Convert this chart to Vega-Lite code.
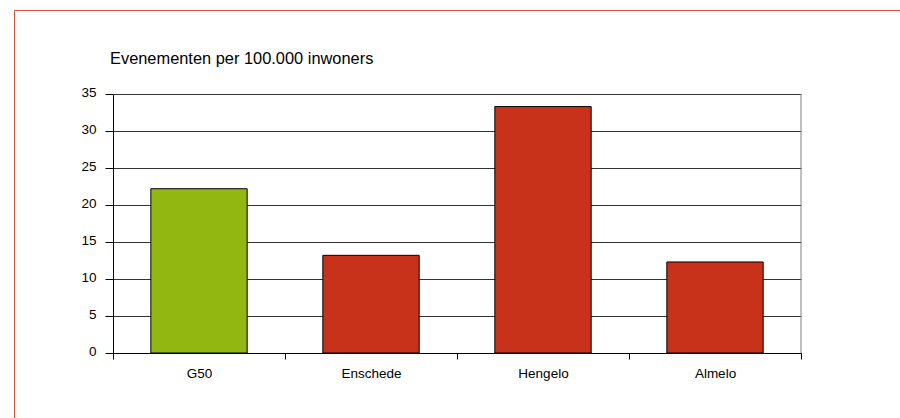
{
  "$schema": "https://vega.github.io/schema/vega-lite/v6.json",
  "autosize": "none",
  "padding": {"left": 14, "top": 10, "right": -2, "bottom": -2},
  "width": 888,
  "height": 410,
  "background": "white",
  "config": {
    "view": {"stroke": "#D9533F", "strokeWidth": 1},
    "font": "Liberation Sans"
  },
  "title": {
    "text": "Evenementen per 100.000 inwoners",
    "anchor": "start",
    "frame": "group",
    "dx": 96,
    "offset": -57,
    "fontSize": 16.4,
    "fontWeight": "normal",
    "color": "#000000",
    "font": "Liberation Sans"
  },
  "data": {
    "values": [
      {"plaats": "G50", "waarde": 22.2},
      {"plaats": "Enschede", "waarde": 13.2},
      {"plaats": "Hengelo", "waarde": 33.3},
      {"plaats": "Almelo", "waarde": 12.3}
    ]
  },
  "layer": [
    {
      "mark": {"type": "bar", "width": {"band": 0.56}, "stroke": "#000000", "strokeWidth": 1},
      "encoding": {
        "x": {
          "field": "plaats",
          "type": "nominal",
          "sort": null,
          "scale": {"range": [99, 787], "paddingInner": 0, "paddingOuter": 0},
          "axis": {
            "title": null,
            "orient": "bottom",
            "offset": -67,
            "tickBand": "extent",
            "grid": false,
            "domainColor": "#000000",
            "tickColor": "#000000",
            "tickSize": 6,
            "labelPadding": 7,
            "labelFontSize": 13.5,
            "labelColor": "#000000",
            "labelAngle": 0,
            "labelFont": "Liberation Sans"
          }
        },
        "y": {
          "field": "waarde",
          "type": "quantitative",
          "scale": {"domain": [0, 35], "range": [343, 84], "nice": false},
          "axis": {
            "title": null,
            "orient": "left",
            "offset": -99,
            "values": [0, 5, 10, 15, 20, 25, 30, 35],
            "grid": true,
            "gridColor": "#333333",
            "gridWidth": 1,
            "domainColor": "#000000",
            "tickColor": "#000000",
            "tickSize": 8,
            "labelPadding": 9,
            "labelOffset": -2,
            "labelFontSize": 13.5,
            "labelColor": "#000000",
            "labelFont": "Liberation Sans"
          }
        },
        "color": {
          "field": "plaats",
          "type": "nominal",
          "scale": {"domain": ["G50", "Enschede", "Hengelo", "Almelo"], "range": ["#92B710", "#C8321A", "#C8321A", "#C8321A"]},
          "legend": null
        }
      }
    },
    {
      "data": {"values": [{"grens": "rechts"}]},
      "mark": {"type": "rule", "color": "#808080", "strokeWidth": 1},
      "encoding": {
        "x": {"datum": "Almelo", "bandPosition": 1},
        "y": {"datum": 0},
        "y2": {"datum": 35}
      }
    }
  ]
}
